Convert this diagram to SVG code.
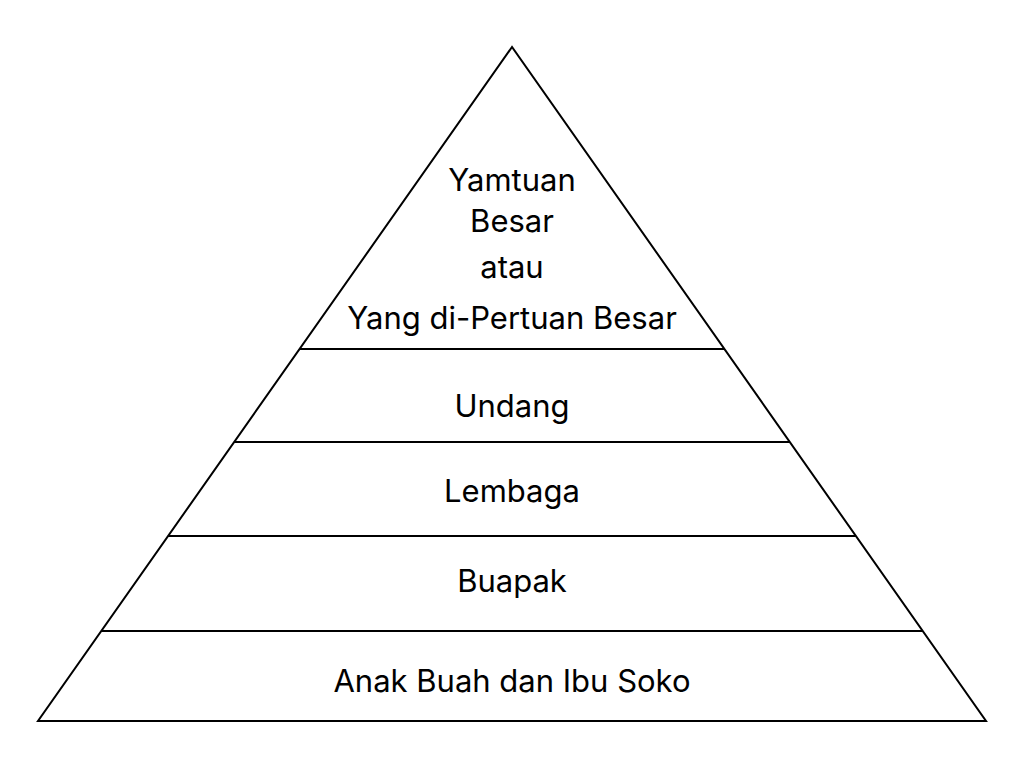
<svg xmlns="http://www.w3.org/2000/svg" width="1024" height="768" viewBox="0 0 1024 768">
<style>
.s{fill:none;stroke:#000;stroke-width:2}
.t{font-family:Inter,"Liberation Sans",sans-serif;font-size:31px;fill:#000;text-anchor:middle}
</style>
<rect width="1024" height="768" fill="#fff"/>
<g id="pyramid">
<polygon class="s" points="512,47 38,721 986,721"/>
</g>
<g id="connectors">
<line class="s" x1="300" y1="349" x2="724" y2="349"/>
<line class="s" x1="234" y1="442" x2="790" y2="442"/>
<line class="s" x1="168" y1="536" x2="856" y2="536"/>
<line class="s" x1="101" y1="631" x2="923" y2="631"/>
</g>
<g id="level1">
<text class="t" x="512" y="191">Yamtuan</text>
<text class="t" x="512" y="232">Besar</text>
<text class="t" x="512" y="278">atau</text>
<text class="t" x="512" y="329">Yang di-Pertuan Besar</text>
</g>
<g id="level2"><text class="t" x="512" y="417">Undang</text></g>
<g id="level3"><text class="t" x="512" y="502">Lembaga</text></g>
<g id="level4"><text class="t" x="512" y="592">Buapak</text></g>
<g id="level5"><text class="t" x="512" y="692">Anak Buah dan Ibu Soko</text></g>
</svg>
